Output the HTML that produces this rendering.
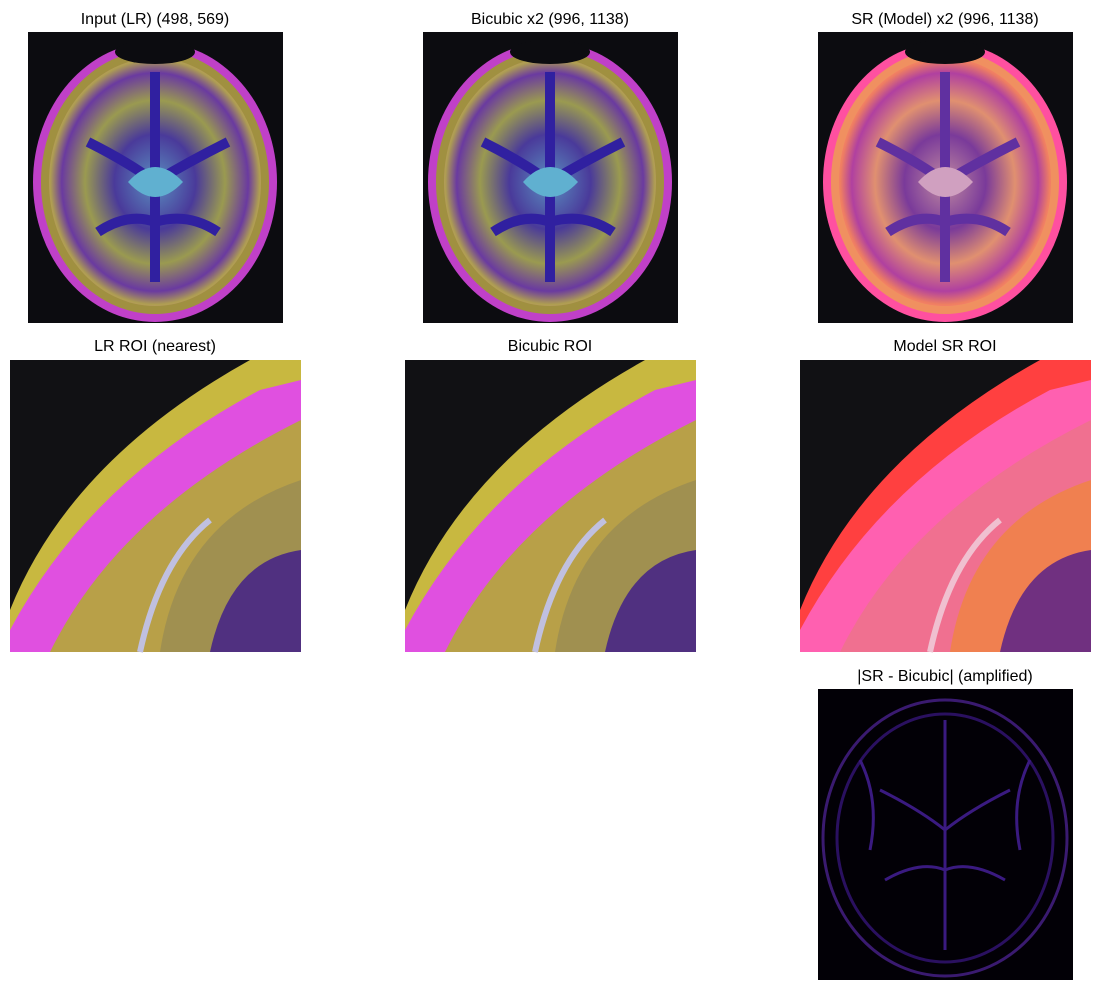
<!DOCTYPE html>
<html><head><meta charset="utf-8"><style>
body{margin:0;background:#fff;width:1100px;height:990px;overflow:hidden;font-family:"Liberation Sans",sans-serif}
svg{position:absolute;left:0;top:0}
text{font-family:"Liberation Sans",sans-serif;font-size:16px;fill:#000;text-anchor:middle}
</style></head><body>
<svg width="1100" height="990">
<defs>
<radialGradient id="bg1" cx="50%" cy="50%" r="55%">
<stop offset="0" stop-color="#5a8fc0"/><stop offset="0.35" stop-color="#4a3a9a"/><stop offset="0.6" stop-color="#9a9a50"/><stop offset="0.8" stop-color="#6a3aa0"/><stop offset="0.9" stop-color="#b0a050"/><stop offset="1" stop-color="#d050d0"/></radialGradient>
<radialGradient id="bg2" cx="50%" cy="50%" r="55%">
<stop offset="0" stop-color="#c08aa0"/><stop offset="0.35" stop-color="#7a3a9a"/><stop offset="0.6" stop-color="#e09070"/><stop offset="0.8" stop-color="#b040a0"/><stop offset="0.9" stop-color="#f08060"/><stop offset="1" stop-color="#ff60c0"/></radialGradient>
<g id="brain1">
<rect width="255" height="291" fill="#0c0c10"/>
<ellipse cx="127" cy="150" rx="122" ry="140" fill="#c040c8"/>
<ellipse cx="127" cy="150" rx="114" ry="132" fill="#a09040"/>
<ellipse cx="127" cy="150" rx="106" ry="124" fill="url(#bg1)"/>
<path d="M127 40 L127 250 M60 110 Q100 130 127 150 Q160 130 200 110 M70 200 Q100 180 127 190 Q160 180 190 200" stroke="#3020a0" stroke-width="10" fill="none"/>
<path d="M100 150 Q127 120 155 150 Q127 180 100 150" fill="#60b0d0"/>
<ellipse cx="127" cy="20" rx="40" ry="12" fill="#0c0c10"/>
</g>
<g id="brain2">
<rect width="255" height="291" fill="#0c0c10"/>
<ellipse cx="127" cy="150" rx="122" ry="140" fill="#ff50a0"/>
<ellipse cx="127" cy="150" rx="114" ry="132" fill="#f09060"/>
<ellipse cx="127" cy="150" rx="106" ry="124" fill="url(#bg2)"/>
<path d="M127 40 L127 250 M60 110 Q100 130 127 150 Q160 130 200 110 M70 200 Q100 180 127 190 Q160 180 190 200" stroke="#6030a0" stroke-width="10" fill="none"/>
<path d="M100 150 Q127 120 155 150 Q127 180 100 150" fill="#d0a0c0"/>
<ellipse cx="127" cy="20" rx="40" ry="12" fill="#0c0c10"/>
</g>
<g id="roi1">
<rect width="291" height="292" fill="#111114"/>
<path d="M0 292 L0 250 Q60 100 240 0 L291 0 L291 292 Z" fill="#c8b840"/>
<path d="M0 292 L0 270 Q80 120 250 30 L291 20 L291 292 Z" fill="#e050e0"/>
<path d="M40 292 Q110 150 291 60 L291 292 Z" fill="#b8a048"/>
<path d="M150 292 Q170 160 291 120 L291 292 Z" fill="#a09050"/>
<path d="M200 292 Q220 200 291 190 L291 292 Z" fill="#503080"/>
<path d="M130 292 Q150 200 200 160" stroke="#c0c0e0" stroke-width="6" fill="none"/>
</g>
<g id="roi2">
<rect width="291" height="292" fill="#111114"/>
<path d="M0 292 L0 250 Q60 100 240 0 L291 0 L291 292 Z" fill="#ff4040"/>
<path d="M0 292 L0 270 Q80 120 250 30 L291 20 L291 292 Z" fill="#ff60b0"/>
<path d="M40 292 Q110 150 291 60 L291 292 Z" fill="#f07090"/>
<path d="M150 292 Q170 160 291 120 L291 292 Z" fill="#f08050"/>
<path d="M200 292 Q220 200 291 190 L291 292 Z" fill="#703080"/>
<path d="M130 292 Q150 200 200 160" stroke="#f0c0d0" stroke-width="6" fill="none"/>
</g>
</defs>
<text x="155" y="24">Input (LR) (498, 569)</text>
<text x="550" y="24">Bicubic x2 (996, 1138)</text>
<text x="945" y="24">SR (Model) x2 (996, 1138)</text>
<use href="#brain1" x="28" y="32"/>
<use href="#brain1" x="423" y="32"/>
<use href="#brain2" x="818" y="32"/>
<text x="155" y="351">LR ROI (nearest)</text>
<text x="550" y="351">Bicubic ROI</text>
<text x="945" y="351">Model SR ROI</text>
<use href="#roi1" x="10" y="360"/>
<use href="#roi1" x="405" y="360"/>
<use href="#roi2" x="800" y="360"/>
<text x="945" y="681">|SR - Bicubic| (amplified)</text>
<g>
<rect x="818" y="689" width="255" height="291" fill="#020006"/>
<ellipse cx="945" cy="838" rx="122" ry="138" fill="none" stroke="#3a1a70" stroke-width="3"/>
<ellipse cx="945" cy="838" rx="108" ry="124" fill="none" stroke="#2a1060" stroke-width="3"/>
<path d="M945 720 L945 950 M880 790 Q920 810 945 830 Q970 810 1010 790 M885 880 Q920 860 945 870 Q970 860 1005 880 M860 760 Q880 800 870 850 M1030 760 Q1010 800 1020 850" stroke="#3a1a80" stroke-width="3" fill="none"/>
</g>
</svg>
</body></html>
